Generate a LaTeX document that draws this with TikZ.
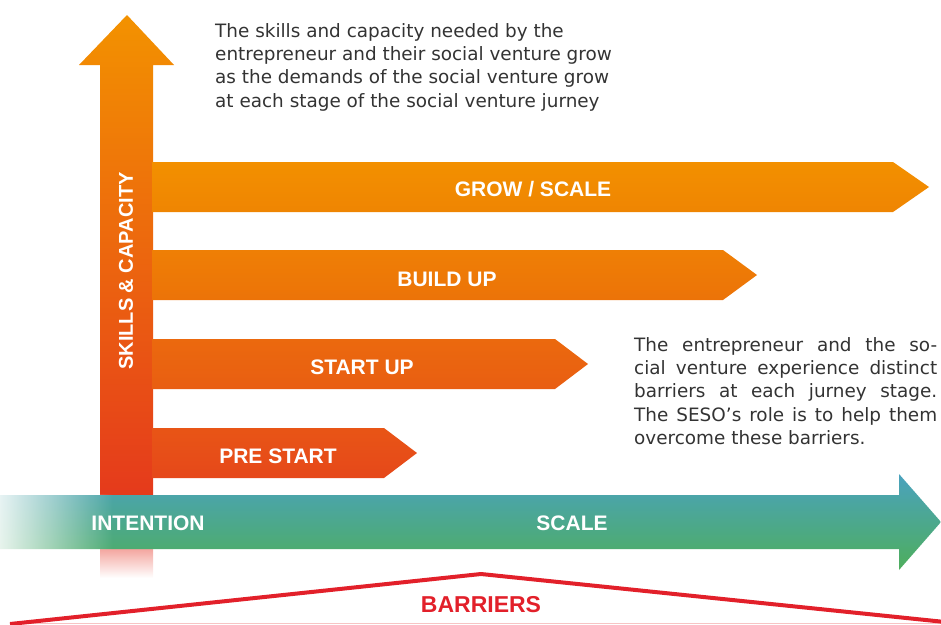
\documentclass[tikz,border=0pt]{standalone}
\usepackage{fontspec}
\setmainfont{DejaVu Sans}
\newfontfamily\labelfont{Liberation Sans}
\usetikzlibrary{fadings}
\definecolor{vtop}{HTML}{F39200}
\definecolor{vmid}{HTML}{EE7A06}
\definecolor{vbot}{HTML}{E53A1C}
\definecolor{growT}{HTML}{F39000}
\definecolor{growB}{HTML}{EF8502}
\definecolor{buildT}{HTML}{EF7F05}
\definecolor{buildB}{HTML}{EC7308}
\definecolor{startT}{HTML}{EB690E}
\definecolor{startB}{HTML}{E95E12}
\definecolor{preT}{HTML}{E85516}
\definecolor{preB}{HTML}{E6481A}
\definecolor{teal}{HTML}{4AA2BE}
\definecolor{grn}{HTML}{4EAE5C}
\definecolor{barred}{HTML}{E2202A}
\definecolor{lightpink}{HTML}{F7C4C4}
\definecolor{fadepink}{HTML}{F3A39C}
\definecolor{txt}{HTML}{333333}
\tikzfading[name=fadeleft, left color=transparent!0, right color=transparent!100]
\tikzset{
  stagelabel/.style={text=white, font=\labelfont\bfseries\fontsize{21}{24}\selectfont, inner sep=0pt},
  bodytext/.style={text=txt, font=\fontsize{18.4}{23.3}\selectfont, inner sep=0pt, anchor=north west},
  barrierline/.style={draw=barred, line width=4pt, line join=miter},
}
\begin{document}
\begin{tikzpicture}[x=1pt,y=-1pt]
\useasboundingbox (0,0) rectangle (941,624);
% vertical arrow
\shade[top color=vtop, middle color=vmid, bottom color=vbot]
  (100,496) -- (100,65) -- (79,65) -- (127,15) -- (174,65) -- (153,65) -- (153,496) -- cycle;
\shade[top color=fadepink, bottom color=white] (100,548) rectangle (153,578);
% stage bars
\shade[top color=growT, bottom color=growB]
  (152,162) -- (893,162) -- (929,187) -- (893,212) -- (152,212) -- cycle;
\shade[top color=buildT, bottom color=buildB]
  (152,250) -- (723,250) -- (757,275) -- (723,300) -- (152,300) -- cycle;
\shade[top color=startT, bottom color=startB]
  (152,339) -- (555,339) -- (588,364) -- (555,389) -- (152,389) -- cycle;
\shade[top color=preT, bottom color=preB]
  (152,428) -- (384,428) -- (417,453) -- (384,478) -- (152,478) -- cycle;
% horizontal green arrow
\shade[top color=teal, bottom color=grn]
  (0,495) -- (899,495) -- (899,474) -- (941,522) -- (899,570) -- (899,549) -- (0,549) -- cycle;
\fill[white, path fading=fadeleft] (-17,494) rectangle (113,550);
% barriers
\draw[lightpink, line width=1.5pt] (10,623.5) -- (941,623.5);
\draw[barrierline] (10,624) -- (481,574) -- (945,622);
\node[text=barred, font=\labelfont\bfseries\fontsize{23}{26}\selectfont, inner sep=0pt] (barriers) at (481,605) {BARRIERS};
% labels
\node[stagelabel] (grow) at (533,189) {GROW / SCALE};
\node[stagelabel] (build) at (447,279) {BUILD UP};
\node[stagelabel] (start) at (362,367) {START UP};
\node[stagelabel] (pre) at (278,456) {PRE START};
\node[stagelabel] (intention) at (148,523) {INTENTION};
\node[stagelabel] (scale) at (572,523) {SCALE};
\node[stagelabel, rotate=90, font=\labelfont\bfseries\fontsize{20}{24}\selectfont] (skills) at (126,271) {SKILLS \& CAPACITY};
% texts
\node[bodytext, align=left] (toptext) at (215,23) {The skills and capacity needed by the\\entrepreneur and their social venture grow\\as the demands of the social venture grow\\at each stage of the social venture jurney};
\node[bodytext, text width=303pt, align=justify] (sidetext) at (634,337) {The entrepreneur and the so-\linebreak cial venture experience distinct\linebreak barriers at each jurney stage.\linebreak The SESO's role is to help them\linebreak overcome these barriers.};
\end{tikzpicture}
\end{document}
